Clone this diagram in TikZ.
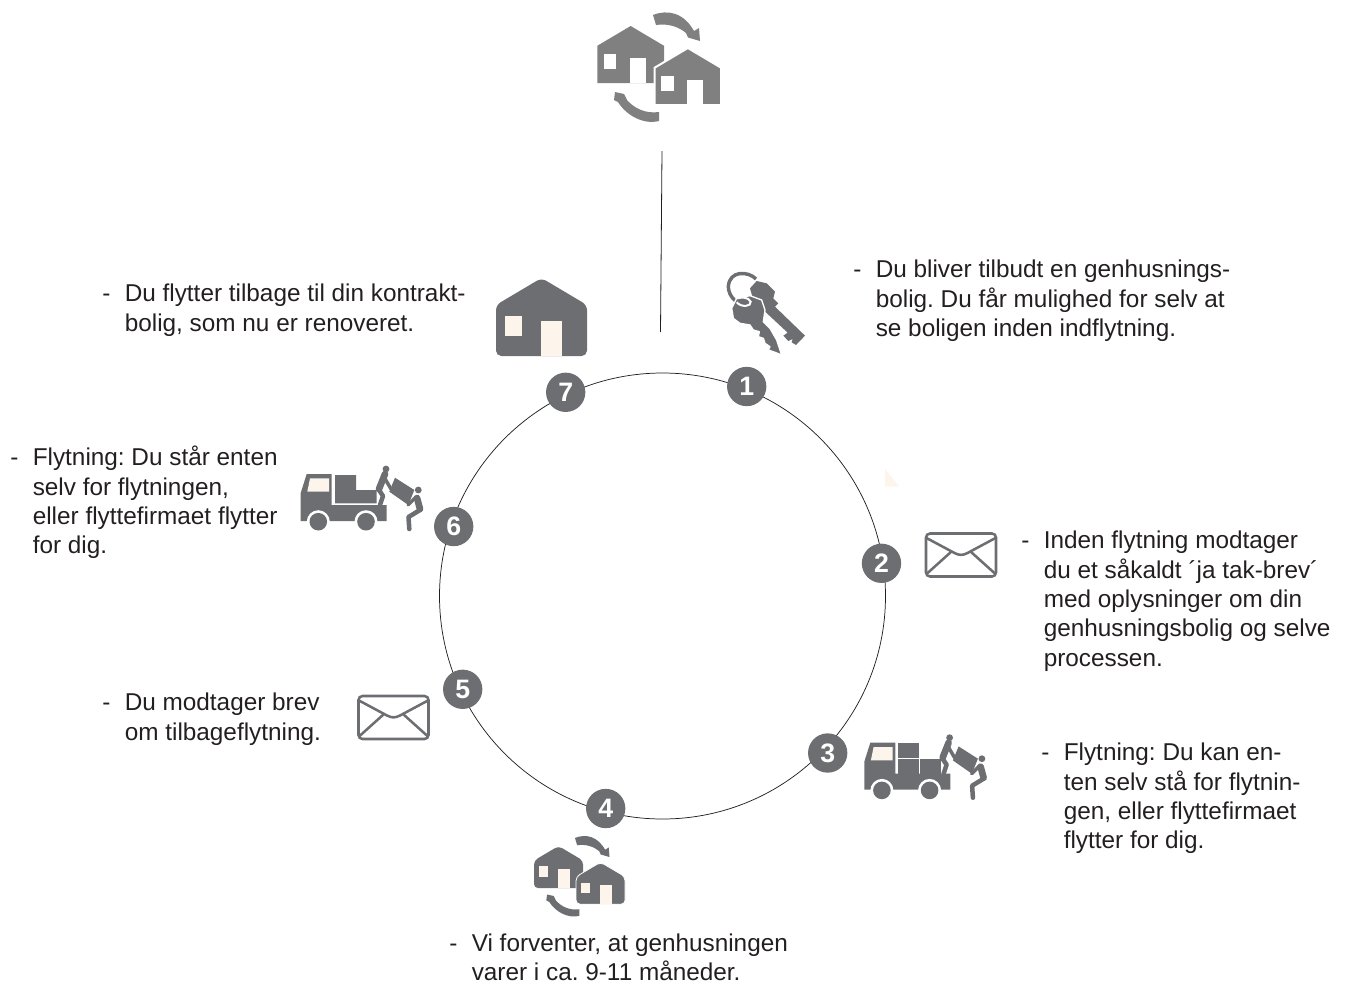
\documentclass[tikz,border=0pt]{standalone}
\usepackage{fontspec}
\setmainfont{Liberation Sans}
\frenchspacing
\definecolor{inkdark}{HTML}{6D6E71}
\definecolor{inkgray}{HTML}{808080}
\definecolor{cream}{HTML}{FDF4EC}
\definecolor{inktext}{HTML}{231F20}
\newcommand{\Lead}{\makebox[16.9pt][l]{-}}
\newcommand{\Hang}{\hspace*{16.9pt}}
\tikzset{
  ringline/.style={draw=inktext,line width=0.55pt},
  badge/.style={circle,fill=inkdark,text=white,inner sep=0pt,minimum size=29.5pt,font=\bfseries\fontsize{20}{20}\selectfont},
  caption/.style={anchor=north west,inner sep=0pt,align=left,text=inktext,font=\fontsize{18.25}{22}\selectfont},
  limb/.style={draw=inkdark,line cap=round,line join=round},
}
% house: body colour, window colour, corner radius, extra options
\newcommand{\HouseShape}[4]{%
  \path[fill=#1,rounded corners=#3,#4] (45.5,0) -- (91,27) -- (91,78) -- (0,78) -- (0,27) -- cycle;
  \fill[#2] (9,38) rectangle (26,58);
  \fill[#2] (45,43) rectangle (66,78);
}
\newcommand{\SwapIcon}[4]{%
  \begin{scope}[shift={(597.3,26)},scale=0.733]\HouseShape{#1}{#2}{#3}{}\end{scope}
  \begin{scope}[shift={(654.5,48)},scale=0.733]\HouseShape{#1}{#2}{#3}{draw=white,line width=#4}\end{scope}
  \fill[#1] (653,15) .. controls (668,9) and (684,13) .. (694,31) -- (699,28) -- (700,41) -- (688,37.5) -- (686,33)
     .. controls (679,27) and (668,23) .. (656,25) -- cycle;
  \fill[#1] (659,121) .. controls (643,125) and (626,115) .. (618,102) -- (614,100) -- (615,92) -- (624,94) -- (627,100)
     .. controls (634,108) and (645,114) .. (659,112) -- cycle;
}
\newcommand{\Movers}{%
  \fill[inkdark] (386,469) circle (3.4);
  \draw[limb,line width=5pt] (385,474) -- (379,489);
  \draw[limb,line width=2.6pt] (384,477) -- (391,489);
  \draw[limb,line width=3.4pt] (379,490) -- (383,496) -- (380,505);
  \fill[inkdark] (395,477.7) -- (414.3,490) -- (408.3,505) -- (389.3,491.7) -- cycle;
  \fill[inkdark] (418.3,490) circle (3.4);
  \draw[limb,line width=5pt] (417,498) -- (420,509);
  \draw[limb,line width=2.6pt] (416,497) -- (408,505);
  \draw[limb,line width=3.4pt] (420,510) -- (408.5,517) -- (409.3,529);
}
\newcommand{\TruckBody}{%
  \fill[inkdark] (306.7,474) -- (331.7,474) -- (331.7,505) -- (386.7,505) -- (386.7,521) -- (300.7,521) -- (300.7,493) -- cycle;
  \fill[cream] (307.3,491.7) -- (310,478.3) -- (329,478.3) -- (329,491.7) -- cycle;
  \fill[white] (318.3,521.7) circle (11.5) (366,521.7) circle (11.5);
  \fill[inkdark] (318.3,521.7) circle (8.8) (366,521.7) circle (8.8);
  \Movers
}
\newcommand{\Envelope}{%
  \draw[inkdark,line width=1.9pt,rounded corners=3pt] (1.5,1.5) rectangle (71.5,44.5);
  \draw[inkdark,line width=1.9pt,line join=round] (2,6) -- (30,21) .. controls (35,23.5) and (38,23.5) .. (43,21) -- (71,6);
  \draw[inkdark,line width=1.9pt] (2,42) -- (27,19.5) (71,42) -- (46,19.5);
}
\begin{document}
\begin{tikzpicture}[x=0.75pt,y=-0.75pt]
\useasboundingbox (0,0) rectangle (1347,983);
% ring and top line
\node[ringline,circle,inner sep=0pt,minimum size=334.5pt] (ring) at (662.5,596) {};
\coordinate (lineTop) at (662,151);
\coordinate (lineEnd) at (660.5,332);
\draw[draw=inktext,line width=0.6pt] (lineTop) -- (lineEnd);
% badges
\node[badge] (b1) at (746.7,386.5) {1};
\node[badge] (b2) at (881.5,563.3) {2};
\node[badge] (b3) at (827.7,753) {3};
\node[badge] (b4) at (605.7,808.5) {4};
\node[badge] (b5) at (462.7,689.3) {5};
\node[badge] (b6) at (453.7,526.5) {6};
\node[badge] (b7) at (565.7,392.3) {7};
% top icon
\SwapIcon{inkgray}{white}{0pt}{1.5pt}
% bottom icon
\begin{scope}[shift={(95.0,826.9)},scale=0.735]
  \SwapIcon{inkdark}{cream}{3pt}{0.6pt}
\end{scope}
% house 7
\begin{scope}[shift={(496,278)}]\HouseShape{inkdark}{cream}{4pt}{}\end{scope}
% keys
\begin{scope}[shift={(720,265)},scale=1/3]
  \fill[inkdark] (90,70) -- (110,48) -- (140,55) -- (165,80) -- (160,100) -- (175,115) -- (165,125) -- (255,212) -- (228,240) -- (215,232) -- (218,222) -- (205,228) -- (190,212) -- (203,203) -- (130,135) -- (100,105) -- cycle;
  \draw[inkdark,line width=2.6pt] (108,42) .. controls (85,18) and (28,15) .. (25,65) .. controls (25,95) and (55,125) .. (85,118);
  \path[fill=inkdark,draw=white,line width=1pt,line join=round] (35,130) -- (50,100) -- (90,92) -- (125,105) -- (135,135) -- (130,170) -- (150,190) -- (170,225) -- (185,270) -- (165,262) -- (145,255) -- (150,245) -- (135,235) -- (130,220) -- (115,215) -- (118,200) -- (100,195) -- (90,180) -- (60,175) -- (40,160) -- cycle;
  \draw[white,line width=1.5pt] (50,112) .. controls (65,128) and (95,125) .. (92,110) .. controls (85,96) and (65,96) .. (52,100);
\end{scope}
% truck 6
\TruckBody
\fill[inkdark] (335,475) -- (356,475) -- (356,490) -- (376.7,490) -- (376.7,503.3) -- (335,503.3) -- cycle;
% truck 3
\begin{scope}[shift={(563.6,268.7)}]
  \TruckBody
  \fill[inkdark] (334,474) rectangle (355.4,489);
  \fill[inkdark] (334,490.3) rectangle (355.4,505);
  \fill[inkdark] (356.4,490.3) rectangle (377,505);
\end{scope}
% envelopes
\begin{scope}[shift={(924.5,532)}]\Envelope\end{scope}
\begin{scope}[shift={(357,694.5)}]\Envelope\end{scope}
% small cream mark
\fill[cream] (885,469) -- (885,486.5) -- (899.3,486.5) -- cycle;
% captions
\node[caption] (t1) at (853,260) {\Lead Du bliver tilbudt en genhusnings-\\\Hang bolig. Du får mulighed for selv at\\\Hang se boligen inden indflytning.};
\node[caption] (t2) at (1021,531) {\Lead Inden flytning modtager\\\Hang du et såkaldt ´ja tak-brev´\\\Hang med oplysninger om din\\\Hang genhusningsbolig og selve\\\Hang processen.};
\node[caption] (t3) at (1041,743) {\Lead Flytning: Du kan en-\\\Hang ten selv stå for flytnin-\\\Hang gen, eller flyttefirmaet\\\Hang flytter for dig.};
\node[caption] (t4) at (449,933.5) {\Lead Vi forventer, at genhusningen\\\Hang varer i ca. 9-11 måneder.};
\node[caption] (t5) at (102,693) {\Lead Du modtager brev\\\Hang om tilbageflytning.};
\node[caption] (t6) at (10,446) {\Lead Flytning: Du står enten\\\Hang selv for flytningen,\\\Hang eller flyttefirmaet flytter\\\Hang for dig.};
\node[caption] (t7) at (102,284) {\Lead Du flytter tilbage til din kontrakt-\\\Hang bolig, som nu er renoveret.};
\end{tikzpicture}
\end{document}
